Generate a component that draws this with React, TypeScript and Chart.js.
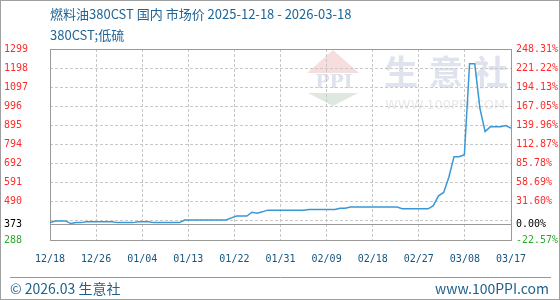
import React, { useEffect, useRef } from "react";
import { Chart, registerables } from "chart.js";

Chart.register(...registerables);

const titleLine1 = "燃料油380CST 国内 市场价 2025-12-18 - 2026-03-18";
const titleLine2 = "380CST;低硫";
const footerLeft = "© 2026.03 生意社";
const footerRight = "www.100PPI.com";
const watermarkChars = ["生", "意", "社"];
const watermarkUrl = "WWW.100PPI.COM";
const logoText = "PPI";

const xTickLabels = ["12/18", "12/26", "01/04", "01/13", "01/22", "01/31", "02/09", "02/18", "02/27", "03/08", "03/17"];

// daily price, 2025-12-18 .. 2026-03-17
const priceValues = [
  380, 389, 389, 389, 375, 380, 380,
  385, 385, 385, 385, 385, 385,
  380, 380, 380, 380,
  385, 385, 385,
  380, 380, 380, 380, 380, 380,
  394, 394, 394, 394, 394, 394, 394, 394, 394,
  405, 415, 415, 415,
  435, 430, 437,
  446, 446, 446, 446, 446, 446, 446, 446,
  450, 450, 450, 450, 450, 450,
  456, 456,
  463, 463, 463, 463, 463, 463, 463, 463, 463, 463,
  453, 453, 453, 453, 453, 453,
  470, 522, 540, 620, 729, 729, 740, 1221, 1221, 985, 862, 887, 887, 887, 894, 880,
];

const leftTickLabels = ["1299", "1198", "1097", "996", "895", "794", "692", "591", "490", "373", "288"];
const rightTickLabels = ["248.31%", "221.22%", "194.13%", "167.05%", "139.96%", "112.87%", "85.78%", "58.69%", "31.60%", "0.00%", "-22.57%"];
const baseValue = 373;
const extraGridValues = [389];
const yMin = 288;
const yMax = 1299;

const TICK_FONT = { family: "'DejaVu Sans Mono', monospace", size: 10 };
const CJK = "'Noto Sans CJK SC', 'Noto Sans', sans-serif";

const decorPlugin = {
  id: "decor",
  beforeDraw(chart: any) {
    const ctx = chart.ctx as CanvasRenderingContext2D;
    const W = chart.width;
    const H = chart.height;
    ctx.save();
    ctx.fillStyle = "#ffffff";
    ctx.fillRect(0, 0, W, H);

    // logo watermark
    ctx.fillStyle = "#f7dddd";
    ctx.beginPath();
    ctx.moveTo(333, 50);
    ctx.lineTo(359, 73);
    ctx.lineTo(307, 73);
    ctx.closePath();
    ctx.fill();
    ctx.fillStyle = "#dfe8df";
    ctx.beginPath();
    ctx.moveTo(308, 93);
    ctx.lineTo(358, 93);
    ctx.lineTo(333, 106);
    ctx.closePath();
    ctx.fill();
    ctx.fillStyle = "#dde2ec";
    ctx.font = "bold 19px 'DejaVu Serif', serif";
    ctx.textAlign = "center";
    ctx.textBaseline = "middle";
    ctx.fillText(logoText, 334, 83);

    // text watermark
    ctx.fillStyle = "#dfe3ed";
    ctx.font = `bold 34px ${CJK}`;
    ctx.textAlign = "left";
    watermarkChars.forEach((c, i) => ctx.fillText(c, 384 + i * 45, 72));
    ctx.fillStyle = "#e8e8e8";
    ctx.font = "13px 'DejaVu Sans', sans-serif";
    ctx.fillText(watermarkUrl, 385, 106);

    // title
    ctx.fillStyle = "#1e6496";
    ctx.font = `13px ${CJK}`;
    ctx.fillText(titleLine1, 50, 14);
    ctx.fillText(titleLine2, 50, 35.5);

    // footer
    ctx.strokeStyle = "#999999";
    ctx.lineWidth = 1;
    ctx.beginPath();
    ctx.moveTo(10, 277.5);
    ctx.lineTo(551, 277.5);
    ctx.stroke();
    ctx.fillStyle = "#1f5f8b";
    ctx.font = `14px ${CJK}`;
    ctx.fillText(footerLeft, 10, 288.5);
    ctx.textAlign = "right";
    ctx.fillText(footerRight, 549, 288.5);

    // outer border
    ctx.strokeStyle = "#a0a0a0";
    ctx.strokeRect(0.5, 0.5, W - 1, H - 1);
    ctx.restore();
  },
  beforeDatasetsDraw(chart: any) {
    const ctx = chart.ctx as CanvasRenderingContext2D;
    const a = chart.chartArea;
    const y = chart.scales.y;
    ctx.save();
    ctx.strokeStyle = "#999999";
    ctx.lineWidth = 1;
    const by = Math.round(y.getPixelForValue(baseValue)) + 0.5;
    ctx.beginPath();
    ctx.moveTo(a.left, by);
    ctx.lineTo(a.right, by);
    ctx.stroke();
    ctx.strokeRect(Math.round(a.left) + 0.5, Math.round(a.top) + 0.5, Math.round(a.right - a.left), Math.round(a.bottom - a.top));
    ctx.restore();
  },
};

export default function App() {
  const ref = useRef<HTMLCanvasElement>(null);
  useEffect(() => {
    document.body.style.margin = "0";
    const canvas = ref.current!;
    const yTickValues = [...leftTickLabels.map(Number), ...extraGridValues].sort((a, b) => a - b);
    const labelFor = (v: number, arr: string[]) => {
      const i = leftTickLabels.findIndex((l) => Number(l) === v);
      return i >= 0 ? arr[i] : "";
    };
    const tickColor = (v: number) => (v > baseValue ? "#ff2b2b" : v < baseValue ? "#2ea82e" : "#000000");
    const n = priceValues.length;

    const chart = new Chart(canvas, {
      type: "line",
      data: {
        datasets: [
          {
            data: priceValues.map((v, i) => ({ x: i, y: v })),
            borderColor: "#3a98d6",
            borderWidth: 1.5,
            pointRadius: 0,
            tension: 0,
            fill: false,
          },
        ],
      },
      options: {
        animation: false,
        responsive: false,
        events: [],
        layout: { padding: { left: 4, top: 49, right: 0, bottom: 0 } },
        plugins: { legend: { display: false }, tooltip: { enabled: false }, title: { display: false } },
        scales: {
          x: {
            type: "linear",
            min: 0,
            max: n - 1,
            bounds: "data",
            afterBuildTicks: (s: any) => {
              s.ticks = xTickLabels.map((_, i) => ({ value: (i * (n - 1)) / (xTickLabels.length - 1) }));
            },
            afterFit: (s: any) => {
              s.height = 60;
            },
            ticks: {
              autoSkip: false,
              maxRotation: 0,
              padding: 13,
              color: "#15557f",
              font: TICK_FONT,
              callback: (_v: any, i: number) => xTickLabels[i],
            },
            grid: {
              drawTicks: false,
              lineWidth: 1,
              color: (c: any) => (c.index === 0 || c.index === xTickLabels.length - 1 ? "rgba(0,0,0,0)" : "#c8c8c8"),
            },
            border: { display: false, dash: [3, 2] },
          },
          y: {
            type: "linear",
            position: "left",
            min: yMin,
            max: yMax,
            bounds: "data",
            afterBuildTicks: (s: any) => {
              s.ticks = yTickValues.map((v) => ({ value: v }));
            },
            afterFit: (s: any) => {
              s.width = 46;
            },
            ticks: {
              autoSkip: false,
              crossAlign: "far",
              padding: 0,
              font: TICK_FONT,
              color: (c: any) => tickColor(c.tick.value),
              callback: (v: any) => labelFor(Number(v), leftTickLabels),
            },
            grid: {
              drawTicks: false,
              lineWidth: 1,
              color: (c: any) => {
                const v = c.tick ? c.tick.value : 0;
                return v === yMin || v === yMax || v === baseValue ? "rgba(0,0,0,0)" : "#c8c8c8";
              },
            },
            border: { display: false, dash: [3, 2] },
          },
          y2: {
            type: "linear",
            position: "right",
            min: yMin,
            max: yMax,
            bounds: "data",
            afterBuildTicks: (s: any) => {
              s.ticks = yTickValues.map((v) => ({ value: v }));
            },
            afterFit: (s: any) => {
              s.width = 49;
            },
            ticks: {
              autoSkip: false,
              padding: 5,
              font: TICK_FONT,
              color: (c: any) => tickColor(c.tick.value),
              callback: (v: any) => labelFor(Number(v), rightTickLabels),
            },
            grid: { display: false, drawTicks: false },
            border: { display: false },
          },
        },
      },
      plugins: [decorPlugin],
    } as any);
    return () => chart.destroy();
  }, []);
  return <canvas ref={ref} width={560} height={300} style={{ display: "block" }} />;
}
